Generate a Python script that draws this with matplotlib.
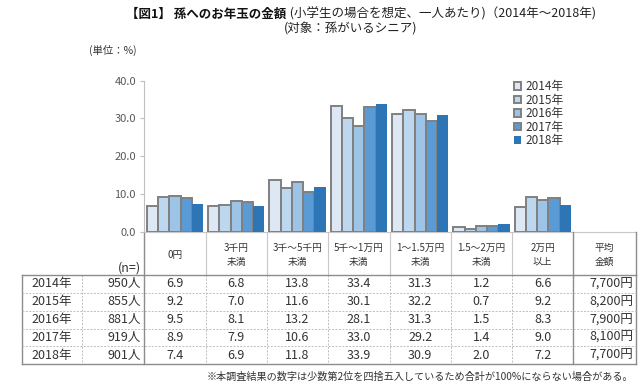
import matplotlib
matplotlib.use("Agg")
import matplotlib.pyplot as plt
import numpy as np

plt.rcParams['font.family'] = ['Noto Sans CJK JP', 'DejaVu Sans']

# ---- data ----
categories = ["0円", "3千円\n未満", "3千～5千円\n未満", "5千～1万円\n未満",
              "1～1.5万円\n未満", "1.5～2万円\n未満", "2万円\n以上"]
years = ["2014年", "2015年", "2016年", "2017年", "2018年"]
n_counts = ["950人", "855人", "881人", "919人", "901人"]
v2014 = [6.9, 6.8, 13.8, 33.4, 31.3, 1.2, 6.6]
v2015 = [9.2, 7.0, 11.6, 30.1, 32.2, 0.7, 9.2]
v2016 = [9.5, 8.1, 13.2, 28.1, 31.3, 1.5, 8.3]
v2017 = [8.9, 7.9, 10.6, 33.0, 29.2, 1.4, 9.0]
v2018 = [7.4, 6.9, 11.8, 33.9, 30.9, 2.0, 7.2]
avg_amount = ["7,700円", "8,200円", "7,900円", "8,100円", "7,700円"]
avg_header = "平均\n金額"
yticks = [0, 10, 20, 30, 40]
series = [v2014, v2015, v2016, v2017, v2018]

colors = ["#DEE8F4", "#BDD7EE", "#9DC3E6", "#5B9BD5", "#2E75B6"]
edges = ["#808080", "#808080", "#808080", "#808080", "none"]

W, H = 640, 392
fig = plt.figure(figsize=(W / 100, H / 100), dpi=100)

# background overlay in pixel coordinates for table and texts
ov = fig.add_axes([0, 0, 1, 1], zorder=0)
ov.set_xlim(0, W)
ov.set_ylim(H, 0)
ov.axis('off')

# ---- bar chart ----
x_left, x_right = 144.3, 144.3 + 61.3 * 7
y_top, y_bot = 80.7, 231.7
ax = fig.add_axes([x_left / W, 1 - y_bot / H, (x_right - x_left) / W, (y_bot - y_top) / H], zorder=2)
ax.patch.set_alpha(0)
x = np.arange(len(categories))
bw = 0.184
handles = []
for i, (vals, c, e) in enumerate(zip(series, colors, edges)):
    b = ax.bar(x + (i - 2) * bw, vals, width=bw, color=c,
               edgecolor=e, linewidth=1.4 if e != "none" else 0, label=years[i])
    handles.append(b)
ax.set_xlim(-0.5, len(categories) - 0.5)
ax.set_ylim(0, 40)
ax.set_yticks(yticks)
ax.set_yticklabels([f"{t:.1f}" for t in yticks], fontsize=8, color="#595959")
ax.set_xticks([])
for s in ["top", "right"]:
    ax.spines[s].set_visible(False)
ax.spines["left"].set_color("#BFBFBF")
ax.spines["bottom"].set_visible(False)
ax.tick_params(axis='y', length=3, color="#BFBFBF", pad=3)

leg = fig.legend(handles=handles, labels=years, loc="upper left",
                 bbox_to_anchor=(514 / W, 1 - 80 / H), frameon=False,
                 fontsize=8.5, handlelength=0.6, handleheight=0.6,
                 handletextpad=0.35, labelspacing=0.05, borderpad=0, borderaxespad=0)
for t in leg.get_texts():
    t.set_color("#333333")

# ---- table ----
solid = dict(color="#8C8C8C", lw=1.0)
light = dict(color="#C8C8C8", lw=0.8)
dashed = dict(color="#BDBDBD", lw=0.7, ls=(0, (2, 1.5)))

col_w = 61.3
col_x = [x_left + col_w * k for k in range(len(categories) + 1)]
x_avg_r = 636
hdr_top, hdr_bot = 232, 275
row_y = [275, 292.9, 310.7, 328.6, 346.4, 364.3]
tbl_l, tbl_mid = 21.5, 82

# top line (axis line) across header
ov.plot([x_left, x_avg_r], [hdr_top, hdr_top], **light)
# header verticals
for xx in col_x[1:-1]:
    ov.plot([xx, xx], [hdr_top, hdr_bot], **light)
ov.plot([x_left, x_left], [hdr_top, hdr_bot], **solid)
ov.plot([col_x[-1], col_x[-1]], [hdr_top, hdr_bot], **solid)
ov.plot([x_avg_r, x_avg_r], [hdr_top, hdr_bot], **solid)

# body verticals
for xx in [tbl_mid] + col_x[1:-1]:
    ov.plot([xx, xx], [row_y[0], row_y[-1]], **dashed)
for xx in [tbl_l, x_left, col_x[-1], x_avg_r]:
    ov.plot([xx, xx], [row_y[0], row_y[-1]], **solid)
# horizontals
for yy in row_y[1:-1]:
    ov.plot([tbl_l, x_avg_r], [yy, yy], **dashed)
ov.plot([tbl_l, x_avg_r], [row_y[0], row_y[0]], **solid)
ov.plot([tbl_l, x_avg_r], [row_y[-1], row_y[-1]], **solid)

# header text
for k, cat in enumerate(categories):
    ov.text(col_x[k] + col_w / 2, 255, cat, ha='center', va='center',
            fontsize=7, color="#333333", linespacing=1.45)
ov.text((col_x[-1] + x_avg_r) / 2, 255, avg_header, ha='center', va='center',
        fontsize=7, color="#333333", linespacing=1.45)
ov.text(141, 268, "(n=)", ha='right', va='center', fontsize=9, color="#333333")

# body text
for r in range(len(years)):
    yc = (row_y[r] + row_y[r + 1]) / 2
    ov.text((tbl_l + tbl_mid) / 2, yc, years[r], ha='center', va='center', fontsize=9, color="#333333")
    ov.text(141, yc, n_counts[r], ha='right', va='center', fontsize=9, color="#333333")
    for k in range(len(categories)):
        ov.text(col_x[k] + col_w / 2, yc, f"{series[r][k]:.1f}", ha='center', va='center',
                fontsize=9, color="#333333")
    ov.text(633, yc, avg_amount[r], ha='right', va='center', fontsize=9, color="#333333")

# footnote
ov.text(633, 376.5, "※本調査結果の数字は少数第2位を四捨五入しているため合計が100%にならない場合がある。",
        ha='right', va='center', fontsize=7.3, color="#333333")

# ---- titles ----
ov.text(89, 50, "(単位：%)", ha='left', va='center', fontsize=7.5, color="#333333")
ov.text(351, 29, "(対象：孫がいるシニア)", ha='center', va='center', fontsize=9, color="#222222")

fig.canvas.draw()
r = fig.canvas.get_renderer()
t1 = ov.text(0, 14, "【図1】 孫へのお年玉の金額", ha='left', va='center',
             fontsize=9, fontweight='bold', color="#111111")
t2 = ov.text(0, 14, " (小学生の場合を想定、一人あたり)（2014年～2018年)", ha='left', va='center',
             fontsize=9, color="#222222")
w1 = t1.get_window_extent(r).width
w2 = t2.get_window_extent(r).width
start = 361 - (w1 + w2) / 2
t1.set_x(start)
t2.set_x(start + w1)

fig.savefig("out.png", dpi=100)
